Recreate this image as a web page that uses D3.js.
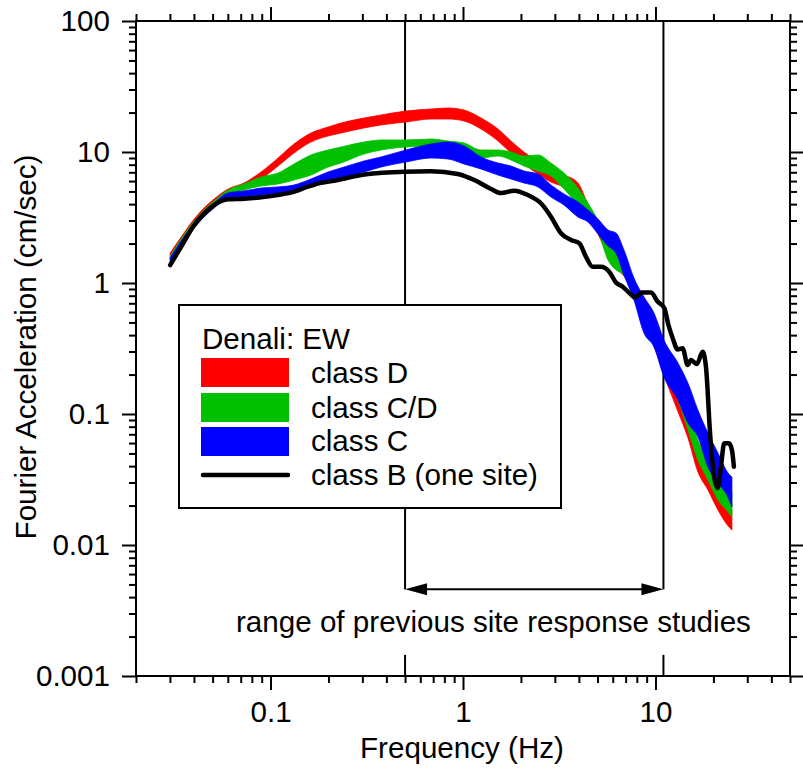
<!DOCTYPE html>
<html><head><meta charset="utf-8">
<script src="https://cdn.jsdelivr.net/npm/d3@7"></script>
<style>
body{margin:0;background:#fff}
svg{display:block}
text{font-family:"Liberation Sans",Arial,sans-serif;fill:#000}
</style>
</head><body>
<svg id="c" width="803" height="775"></svg>
<script>
// ---------------- DATA ----------------
const freqBand = [0.0301,0.0343,0.0401,0.0451,0.0509,0.0602,0.0728,0.0893,0.1094,0.1324,
  0.1622,0.1990,0.2323,0.3061,0.3750,0.5058,0.6823,0.8358,1.012,1.240,
  1.520,1.775,2.074,2.453,2.864,3.347,3.956,4.457,5.026,5.665,
  6.233,6.858,7.730,8.714,9.824,11.07,13.09,14.75,16.62,18.74,
  21.12,23.81,24.96];
const classD_hi = [1.69,2.24,3.08,3.74,4.38,5.22,5.80,7.04,9.00,11.51,
  13.96,15.51,16.65,18.18,19.16,20.56,21.29,21.67,20.92,18.18,
  14.98,12.13,10.0,8.39,7.29,6.67,5.80,4.01,2.92,2.06,
  1.64,1.42,1.05,0.644,0.438,0.282,0.152,0.0900,0.0504,0.0361,
  0.0277,0.0195,0.0185];
const classD_lo = [1.55,2.06,2.77,3.36,3.94,4.70,5.22,6.22,7.82,9.83,
  11.92,13.25,13.96,15.25,16.08,16.94,17.86,17.86,17.25,14.98,
  12.13,9.83,8.10,6.79,5.90,5.41,4.61,3.25,2.37,1.61,
  1.30,1.13,0.839,0.486,0.330,0.198,0.104,0.0656,0.0361,0.0263,
  0.0185,0.0140,0.0130];
const classCD_hi = [1.61,2.17,2.97,3.61,4.23,5.13,5.70,6.45,6.91,8.10,
  9.49,10.36,10.92,11.92,12.35,12.35,12.57,12.13,11.72,10.36,
  10.36,10.0,9.32,9.49,8.24,6.91,5.31,4.08,3.03,2.24,
  1.79,1.45,0.983,0.679,0.478,0.336,0.198,0.117,0.0633,0.0461,
  0.0342,0.0272,0.0249];
const classCD_lo = [1.50,2.02,2.68,3.25,3.80,4.61,5.13,5.50,5.70,6.11,
  6.67,7.68,8.24,9.65,10.36,10.92,11.11,10.73,10.18,9.00,
  9.32,8.69,7.82,7.16,6.56,5.22,3.94,3.19,2.49,1.50,
  1.26,1.15,0.768,0.522,0.354,0.224,0.128,0.0755,0.0445,0.0313,
  0.0221,0.0179,0.0164];
const classC_hi = [1.55,2.09,2.87,3.48,4.08,4.86,5.04,5.31,5.41,5.60,
  6.22,7.04,7.55,8.54,9.16,10.36,11.51,11.92,11.11,9.16,
  8.24,7.82,7.16,6.79,5.60,4.78,4.15,3.61,3.08,2.54,
  2.41,1.79,1.09,0.782,0.590,0.367,0.245,0.172,0.107,0.0716,
  0.0504,0.0355,0.0330];
const classC_lo = [1.45,1.95,2.63,3.19,3.74,4.46,4.53,4.70,4.86,4.95,
  5.41,5.90,6.33,7.04,7.68,8.39,9.00,8.84,8.10,7.42,
  6.67,6.22,5.80,5.41,4.53,3.94,3.19,2.92,2.37,1.92,
  1.69,1.15,0.742,0.415,0.325,0.192,0.128,0.0853,0.0668,0.0394,
  0.0297,0.0232,0.0195];
const freqB = [0.0301,0.0343,0.0402,0.0453,0.0511,0.0600,0.0731,0.0893,0.1089,0.133,
  0.156,0.183,0.214,0.307,0.496,0.682,0.939,1.145,1.398,1.575,
  1.848,2.168,2.54,2.865,3.23,3.64,4.02,4.35,4.72,5.21,
  5.75,6.23,6.76,7.46,7.83,8.51,9.48,10.26,11.11,11.68,
  12.33,13.04,13.84,14.69,15.29,16.42,17.58,18.29,19.27,20.21,
  21.04,21.88,22.76,24.08,24.96,25.56];
const classB = [1.37,1.89,2.77,3.40,3.94,4.35,4.40,4.51,4.70,4.98,
  5.43,5.83,6.04,6.73,7.08,7.12,6.79,6.11,5.22,4.86,
  5.07,4.70,4.06,3.21,2.40,2.13,2.01,1.59,1.33,1.33,
  1.22,1.01,0.937,0.817,0.775,0.846,0.846,0.722,0.644,0.478,
  0.374,0.311,0.317,0.237,0.258,0.241,0.299,0.230,0.0671,0.0325,
  0.0272,0.0396,0.0597,0.0597,0.0531,0.0396];

const xMajor = [0.1, 1, 10];
const yMajor = [0.001, 0.01, 0.1, 1, 10, 100];
const yMajorLabels = ["0.001","0.01","0.1","1","10","100"];
const xMajorLabels = ["0.1","1","10"];
const rangeLo = 0.5, rangeHi = 11;       // previous site response studies
const arrowLevel = 0.0046;               // amplitude level of the arrow
const gapBottom = 0.00145;               // where the lines resume near the axis
const legendTitle = "Denali: EW";
const seriesNames = ["class D","class C/D","class C","class B (one site)"];
const seriesColors = ["#ff0000","#00c000","#0000ff","#000000"];
const xTitle = "Frequency (Hz)";
const yTitle = "Fourier Acceleration (cm/sec)";
const annotation = "range of previous site response studies";

// ---------------- CHART ----------------
const svg = d3.select("#c");
const L = 136, R = 790, T = 21, B = 676;
const x = d3.scaleLog().domain([0.02, 50]).range([L, R]);
const y = d3.scaleLog().domain([0.001, 100]).range([B, T]);
const FS = 29.6;

function minorTicks(lo, hi) {
  const out = [];
  for (let e = -4; e <= 3; e++) {
    for (let k = 1; k <= 9; k++) {
      const v = +(k * Math.pow(10, e)).toPrecision(6);
      if (v >= lo * 0.9999 && v <= hi * 1.0001) out.push(v);
    }
  }
  return out;
}
const xMinor = minorTicks(0.02, 50).filter(v => !xMajor.includes(v));
const yMinor = minorTicks(0.001, 100).filter(v => !yMajor.includes(v));

function styleAxis(g) {
  g.select(".domain").remove();
  g.selectAll(".tick line").attr("stroke", "#000").attr("stroke-width", 2);
  g.selectAll(".tick text").style("font-size", FS + "px").attr("fill", "#000");
}
// bottom
svg.append("g").attr("transform", `translate(0,${B})`)
  .call(d3.axisBottom(x).tickValues(xMinor).tickSize(7).tickFormat(""))
  .call(styleAxis);
svg.append("g").attr("transform", `translate(0,${B})`)
  .call(d3.axisBottom(x).tickValues(xMajor).tickSize(14).tickPadding(11)
        .tickFormat((d, i) => xMajorLabels[i]))
  .call(styleAxis);
// top
svg.append("g").attr("transform", `translate(0,${T})`)
  .call(d3.axisTop(x).tickValues(xMinor).tickSize(7).tickFormat(""))
  .call(styleAxis);
svg.append("g").attr("transform", `translate(0,${T})`)
  .call(d3.axisTop(x).tickValues(xMajor).tickSize(14).tickFormat(""))
  .call(styleAxis);
// left
svg.append("g").attr("transform", `translate(${L},0)`)
  .call(d3.axisLeft(y).tickValues(yMinor).tickSize(7).tickFormat(""))
  .call(styleAxis);
svg.append("g").attr("transform", `translate(${L},0)`)
  .call(d3.axisLeft(y).tickValues(yMajor).tickSize(14).tickPadding(12)
        .tickFormat((d, i) => yMajorLabels[i]))
  .call(styleAxis);
// right
svg.append("g").attr("transform", `translate(${R},0)`)
  .call(d3.axisRight(y).tickValues(yMinor).tickSize(7).tickFormat(""))
  .call(styleAxis);
svg.append("g").attr("transform", `translate(${R},0)`)
  .call(d3.axisRight(y).tickValues(yMajor).tickSize(14).tickFormat(""))
  .call(styleAxis);

// range lines
[rangeLo, rangeHi].forEach(f => {
  svg.append("line").attr("x1", x(f)).attr("x2", x(f))
    .attr("y1", y(100)).attr("y2", y(arrowLevel))
    .attr("stroke", "#000").attr("stroke-width", 2);
  svg.append("line").attr("x1", x(f)).attr("x2", x(f))
    .attr("y1", y(gapBottom)).attr("y2", y(0.001))
    .attr("stroke", "#000").attr("stroke-width", 2);
});

// bands
const bands = [
  {lo: classD_lo, hi: classD_hi, c: seriesColors[0]},
  {lo: classCD_lo, hi: classCD_hi, c: seriesColors[1]},
  {lo: classC_lo, hi: classC_hi, c: seriesColors[2]}
];
const area = d3.area().curve(d3.curveMonotoneX)
  .x(d => x(d.f)).y0(d => y(d.lo)).y1(d => y(d.hi));
bands.forEach(b => {
  const pts = freqBand.map((f, i) => ({f, lo: b.lo[i], hi: b.hi[i]}));
  svg.append("path").attr("d", area(pts)).attr("fill", b.c)
    .attr("stroke", b.c).attr("stroke-width", 0.8);
});
const line = d3.line().curve(d3.curveMonotoneX).x(d => x(d.f)).y(d => y(d.v));
svg.append("path")
  .attr("d", line(freqB.map((f, i) => ({f, v: classB[i]}))))
  .attr("fill", "none").attr("stroke", "#000").attr("stroke-width", 4.5)
  .attr("stroke-linejoin", "round").attr("stroke-linecap", "round");

// frame
svg.append("rect").attr("x", L).attr("y", T).attr("width", R - L).attr("height", B - T)
  .attr("fill", "none").attr("stroke", "#000").attr("stroke-width", 2);

// arrow annotation
const ay = y(arrowLevel), ax1 = x(rangeLo), ax2 = x(rangeHi);
svg.append("line").attr("x1", ax1 + 10).attr("x2", ax2 - 10).attr("y1", ay).attr("y2", ay)
  .attr("stroke", "#000").attr("stroke-width", 2);
svg.append("path").attr("d", `M${ax1},${ay}L${ax1 + 22},${ay - 6}L${ax1 + 22},${ay + 6}Z`).attr("fill", "#000");
svg.append("path").attr("d", `M${ax2},${ay}L${ax2 - 22},${ay - 6}L${ax2 - 22},${ay + 6}Z`).attr("fill", "#000");
svg.append("text").attr("x", 236).attr("y", 632).style("font-size", FS + "px").text(annotation);

// legend
const lg = svg.append("g");
lg.append("rect").attr("x", 179).attr("y", 305).attr("width", 382).attr("height", 203)
  .attr("fill", "#fff").attr("stroke", "#000").attr("stroke-width", 2);
lg.append("text").attr("x", 202).attr("y", 349).style("font-size", FS + "px").text(legendTitle);
const rowY = [358, 393, 427];
rowY.forEach((ry, i) => {
  lg.append("rect").attr("x", 201).attr("y", ry).attr("width", 88).attr("height", 29)
    .attr("fill", seriesColors[i]);
});
lg.append("line").attr("x1", 203).attr("x2", 288).attr("y1", 475).attr("y2", 475)
  .attr("stroke", "#000").attr("stroke-width", 4.5).attr("stroke-linecap", "round");
const textY = [383, 418, 451, 485];
seriesNames.forEach((n, i) => {
  lg.append("text").attr("x", 311).attr("y", textY[i]).style("font-size", FS + "px").text(n);
});

// axis titles
svg.append("text").attr("x", 462).attr("y", 758).attr("text-anchor", "middle")
  .style("font-size", FS + "px").text(xTitle);
svg.append("text").attr("transform", "translate(36,347) rotate(-90)").attr("text-anchor", "middle")
  .style("font-size", FS + "px").text(yTitle);
</script>
</body></html>
